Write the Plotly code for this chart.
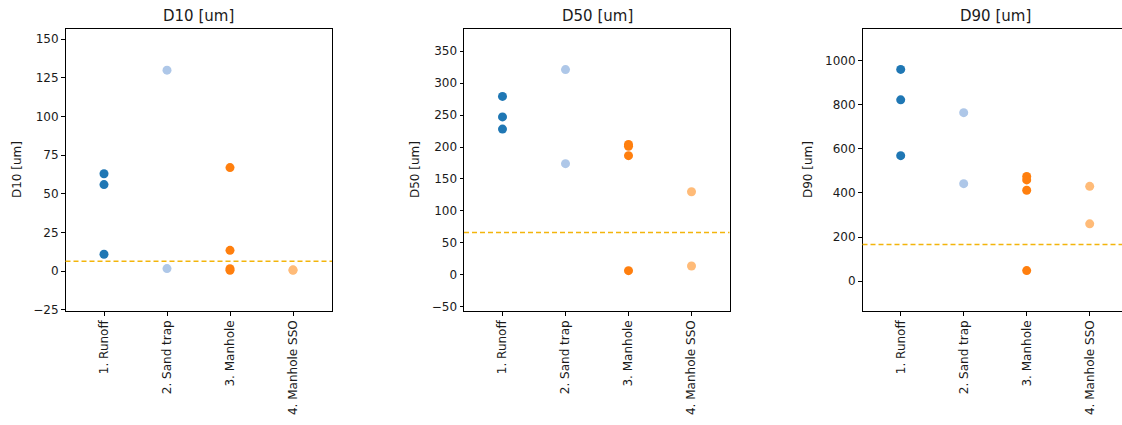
import plotly.graph_objects as go

# Sampling sites (category order on every x axis)
categories = ["1. Runoff", "2. Sand trap", "3. Manhole", "4. Manhole SSO"]

# Site of each sample
sample_site = (["1. Runoff"] * 3 + ["2. Sand trap"] * 2
               + ["3. Manhole"] * 4 + ["4. Manhole SSO"] * 2)

# Grain-size percentiles per sample [um]
d10_um = [63, 56, 11, 130, 1.7, 67, 13.5, 1.6, 0.6, 0.9, 0.6]
d50_um = [279, 247, 228, 321, 174, 204, 201, 186.5, 6.7, 130, 14]
d90_um = [960, 822, 569, 764, 442, 475, 459, 412, 48, 430, 260]

# Reference level drawn as dashed line in each panel [um]
reference_um = [6.5, 66.5, 166]

panel_titles = ["D10 [um]", "D50 [um]", "D90 [um]"]
y_ranges = [[-25.7, 156.6], [-56.3, 384.4], [-135, 1143]]
y_ticks = [list(range(-25, 151, 25)), list(range(-50, 351, 50)), list(range(0, 1001, 200))]

site_colors = {
    "1. Runoff": "#1f77b4",
    "2. Sand trap": "#aec7e8",
    "3. Manhole": "#ff7f0e",
    "4. Manhole SSO": "#ffbb78",
}

W, H = 1122, 425
FONT = "DejaVu Sans"
TXT = "#1a1a1a"

# panel geometry in pixels
x_px = [(65.5, 332.0), (464.0, 729.5), (862.5, 1122.0)]
cat_px = [104.0, 463.0 + 39.5, 900.7]
top_px, bot_px = 29.3, 311.5
step_px = 63.0

fig = go.Figure()

series = [d10_um, d50_um, d90_um]
for i, values in enumerate(series):
    ax = "" if i == 0 else str(i + 1)
    xs = [sample_site[k] for k in range(len(values))]
    cols = [site_colors[s] for s in xs]
    fig.add_trace(go.Scatter(
        x=xs, y=values, mode="markers",
        marker=dict(size=9, color=cols, line=dict(width=0)),
        xaxis="x" + ax, yaxis="y" + ax, showlegend=False,
    ))
    fig.add_shape(
        type="line", xref=f"x{ax} domain", yref="y" + ax,
        x0=0, x1=1, y0=reference_um[i], y1=reference_um[i],
        line=dict(color="#f3b50c", width=1.5, dash="5px,3px"),
    )

    left, right = x_px[i]
    c0 = cat_px[i]
    r0 = -(c0 - left) / step_px
    r1 = (right - c0) / step_px
    axis_common = dict(showline=True, linecolor="black", linewidth=1,
                       ticks="outside", ticklen=3.5, tickcolor="black",
                       showgrid=False, zeroline=False,
                       tickfont=dict(family=FONT, size=12, color=TXT))
    fig.update_layout(**{
        "xaxis" + ax: dict(
            domain=[left / W, right / W], anchor="y" + ax,
            type="category", categoryorder="array", categoryarray=categories,
            range=[r0, r1], tickangle=-90, mirror=True, **axis_common),
        "yaxis" + ax: dict(
            domain=[0, 1], anchor="x" + ax, range=y_ranges[i],
            tickvals=y_ticks[i], mirror=(i < 2), **axis_common),
    })

    center = (left + (c0 + 3 * step_px + (c0 - left))) / 2
    fig.add_annotation(
        text=panel_titles[i], xref="paper", yref="paper",
        x=center / W, y=1 + (top_px - 16) / (bot_px - top_px),
        xanchor="center", yanchor="middle", showarrow=False,
        font=dict(family=FONT, size=15, color=TXT),
    )
    ylab_x = [17, 415, 808][i]
    fig.add_annotation(
        text=panel_titles[i], xref="paper", yref="paper",
        x=ylab_x / W, y=0.5, textangle=-90,
        xanchor="center", yanchor="middle", showarrow=False,
        font=dict(family=FONT, size=12, color=TXT),
    )

fig.update_layout(
    width=W, height=H,
    margin=dict(l=0, r=0, t=top_px, b=H - bot_px),
    paper_bgcolor="white", plot_bgcolor="white",
    font=dict(family=FONT, color=TXT),
)

fig.write_html("out.html")
